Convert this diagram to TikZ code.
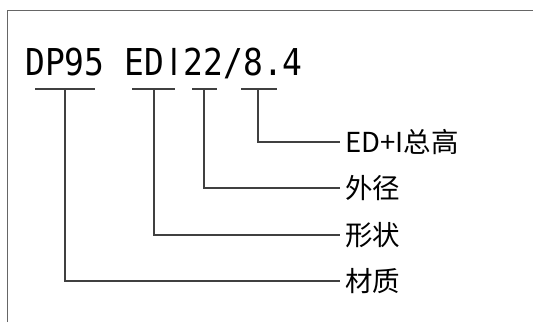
\documentclass[tikz,border=0pt]{standalone}
\usepackage{fontspec}
\newfontfamily\cjk{Noto Sans CJK SC}
\newfontfamily\codefont{DejaVu Sans Mono}
\begin{document}
\begin{tikzpicture}[x=1pt,y=-1pt,lead/.style={black!75,line width=1.1pt},lbl/.style={font=\cjk\fontsize{27.5}{32}\selectfont,anchor=west,inner sep=5pt}]
\useasboundingbox (0,0) rectangle (533,322);
\draw[black!60,line width=1.5pt] (7.5,322) -- (7.5,10.5) -- (533,10.5);
\node[font=\codefont\fontsize{37}{44}\selectfont,xscale=0.89,anchor=base west,inner sep=0pt] (code) at (25,75) {DP95 ED\makebox[0.602em]{\cjk I}22/8.4};
\foreach \n/\a/\b/\m/\y/\l in {1/35/95/65/281/材质,2/132/175/154/235/形状,3/192/217/204/188/外径,4/241/277/258/142/ED+I总高} {
  \coordinate (u\n) at (\m,89);
  \draw[lead] (\a,89) -- (\b,89);
  \node[lbl] (l\n) at (340,\y) {\l};
  \draw[lead] (u\n) |- (l\n);
}
\end{tikzpicture}
\end{document}
